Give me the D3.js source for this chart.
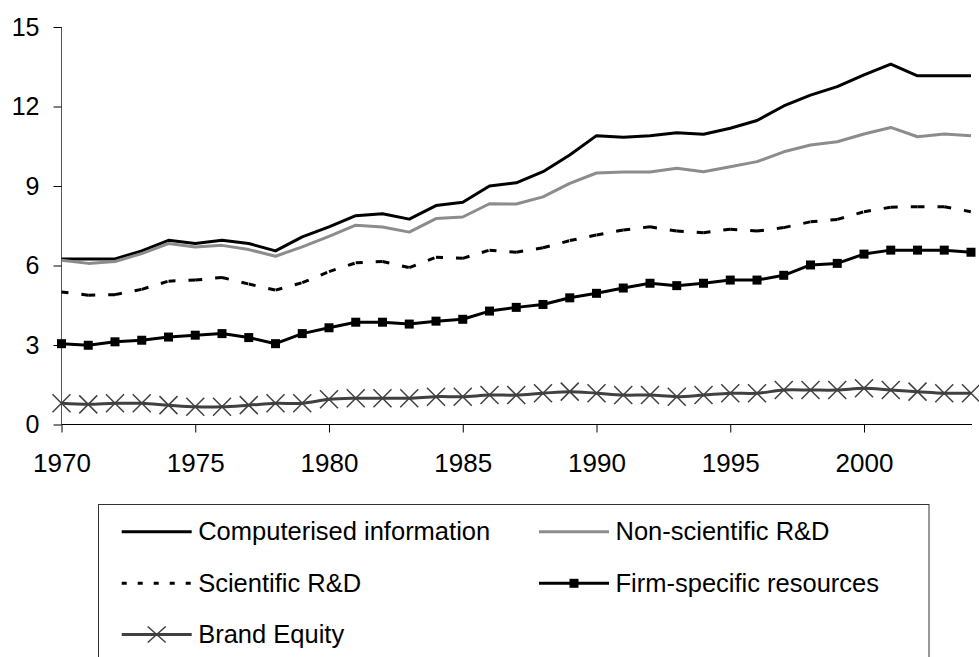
<!DOCTYPE html>
<html>
<head>
<meta charset="utf-8">
<script src="https://cdn.jsdelivr.net/npm/d3@7"></script>
<style>
  html, body { margin: 0; padding: 0; background: #fff; }
  svg { display: block; }
  text { font-family: "Liberation Sans", Arial, sans-serif; fill: #000; }
</style>
</head>
<body>
<svg id="chart" width="979" height="657"></svg>
<script>
// ---- data ----
const years = [1970,1971,1972,1973,1974,1975,1976,1977,1978,1979,
               1980,1981,1982,1983,1984,1985,1986,1987,1988,1989,
               1990,1991,1992,1993,1994,1995,1996,1997,1998,1999,
               2000,2001,2002,2003,2004];
const computerised = [6.25,6.25,6.25,6.55,6.95,6.83,6.95,6.83,6.55,7.08,
                      7.46,7.88,7.95,7.75,8.26,8.39,9.0,9.12,9.54,10.17,
                      10.9,10.84,10.9,11.01,10.95,11.18,11.47,12.02,12.43,12.75,
                      13.19,13.6,13.16,13.16,13.16];
const nonScientific = [6.2,6.08,6.15,6.45,6.83,6.7,6.76,6.6,6.35,6.7,
                       7.1,7.52,7.45,7.26,7.77,7.83,8.33,8.32,8.59,9.1,
                       9.49,9.53,9.53,9.67,9.54,9.73,9.92,10.29,10.55,10.67,
                       10.96,11.21,10.86,10.96,10.9];
const scientific = [5.0,4.88,4.9,5.1,5.41,5.45,5.55,5.3,5.07,5.35,
                    5.77,6.1,6.15,5.92,6.31,6.27,6.58,6.5,6.67,6.94,
                    7.15,7.34,7.46,7.3,7.24,7.37,7.3,7.43,7.65,7.74,
                    8.03,8.2,8.22,8.22,8.03];
const firmSpecific = [3.05,2.99,3.12,3.18,3.3,3.37,3.43,3.28,3.05,3.43,
                      3.65,3.86,3.86,3.79,3.9,3.97,4.28,4.42,4.53,4.78,
                      4.95,5.15,5.33,5.24,5.33,5.45,5.45,5.63,6.02,6.08,
                      6.43,6.58,6.58,6.58,6.5];
const brandEquity = [0.8,0.76,0.8,0.8,0.73,0.67,0.67,0.73,0.8,0.8,
                     0.95,0.99,0.99,0.99,1.05,1.05,1.11,1.11,1.18,1.24,
                     1.18,1.11,1.11,1.05,1.11,1.18,1.18,1.3,1.3,1.3,
                     1.37,1.3,1.24,1.18,1.18];
const seriesNames = ["Computerised information","Non-scientific R&D","Scientific R&D",
                     "Firm-specific resources","Brand Equity"];
const yTicks = [0,3,6,9,12,15];
const xTicks = [1970,1975,1980,1985,1990,1995,2000];

// ---- styles (kept separate from data) ----
const seriesValues = [computerised, nonScientific, scientific, firmSpecific, brandEquity];
const styles = [
  {color:"#000", width:3, dash:false, marker:null, curve:false},
  {color:"#8c8c8c", width:3, dash:false, marker:null, curve:false},
  {color:"#000", width:3, dash:true, marker:null, curve:false},
  {color:"#000", width:3, dash:false, marker:"square", curve:false},
  {color:"#404040", width:3, dash:false, marker:"x", curve:true}
];

const svg = d3.select("#chart");
const x = d3.scaleLinear().domain([1970, 2004]).range([61.5, 971]);
const y = d3.scaleLinear().domain([0, 15]).range([424.5, 27]);

// Y axis
const yAxis = svg.append("g").attr("transform","translate(61.5,0)")
  .call(d3.axisLeft(y).tickValues(yTicks).tickSizeInner(8).tickSizeOuter(0).tickPadding(14));
yAxis.select(".domain").attr("stroke","#555").attr("d", `M0,${y(15)}V${y(0)}`);
yAxis.selectAll(".tick line").attr("stroke","#000");
yAxis.selectAll(".tick text").attr("font-size",25).attr("font-family","Liberation Sans, Arial, sans-serif").attr("fill","#000");

// X axis
const xAxis = svg.append("g").attr("transform",`translate(0,${y(0)})`)
  .call(d3.axisBottom(x).tickValues(xTicks).tickFormat(d3.format("d")).tickSizeInner(8).tickSizeOuter(0));
xAxis.select(".domain").attr("stroke","#000").attr("d", `M${x(1970)},0H${x(2004)+1}`);
xAxis.selectAll(".tick line").attr("stroke","#000");
xAxis.selectAll(".tick text").attr("font-size",26).attr("font-family","Liberation Sans, Arial, sans-serif")
  .attr("fill","#000").attr("y",47).attr("dy",null);

// series
const plot = svg.append("g");
seriesValues.forEach((vals, si) => {
  const st = styles[si];
  const pts = years.map((yr, i) => [yr, vals[i]]);
  const g = plot.append("g");
  if (st.dash) {
    // dash pattern restarts on every segment
    const seg = d3.line().x(d => x(d[0])).y(d => y(d[1]));
    for (let i = 0; i < pts.length - 1; i++) {
      g.append("path").attr("d", seg([pts[i], pts[i+1]]))
        .attr("fill","none").attr("stroke",st.color).attr("stroke-width",st.width)
        .attr("stroke-dasharray","7,13");
    }
  } else {
    const line = d3.line().x(d => x(d[0])).y(d => y(d[1]))
      .curve(st.curve ? d3.curveCatmullRom.alpha(0.5) : d3.curveLinear);
    g.append("path").attr("d", line(pts)).attr("fill","none")
      .attr("stroke",st.color).attr("stroke-width",st.width).attr("stroke-linejoin","round");
  }
  if (st.marker === "square") {
    g.selectAll("rect").data(pts).join("rect")
      .attr("x", d => x(d[0]) - 4.5).attr("y", d => y(d[1]) - 4.5)
      .attr("width",9).attr("height",9).attr("fill","#000");
  } else if (st.marker === "x") {
    g.selectAll("path.mk").data(pts).join("path").attr("class","mk")
      .attr("d", d => { const cx = x(d[0]), cy = y(d[1]), r = 9;
        return `M${cx-r},${cy-r}L${cx+r},${cy+r}M${cx-r},${cy+r}L${cx+r},${cy-r}`; })
      .attr("stroke","#404040").attr("stroke-width",1.5).attr("fill","none");
  }
});

// legend
const legend = svg.append("g");
legend.append("rect").attr("x",98.5).attr("y",504.5).attr("width",830.5).attr("height",200)
  .attr("fill","none").attr("stroke","#333").attr("stroke-width",1);
const colX = [121.7, 539];
const rowY = [531.7, 583.3, 634.5];
seriesNames.forEach((name, i) => {
  const st = styles[i];
  const lx = colX[i % 2], ly = rowY[Math.floor(i / 2)];
  const item = legend.append("g");
  item.append("line").attr("x1",lx).attr("x2",lx+70).attr("y1",ly).attr("y2",ly)
    .attr("stroke",st.color).attr("stroke-width",st.width)
    .attr("stroke-dasharray", st.dash ? "5,11" : null);
  if (st.marker === "square") {
    item.append("rect").attr("x",lx+35-4.5).attr("y",ly-4.5).attr("width",9).attr("height",9).attr("fill","#000");
  } else if (st.marker === "x") {
    const cx = lx+35, r = 9;
    item.append("path").attr("d",`M${cx-r},${ly-8}L${cx+r},${ly+8}M${cx-r},${ly+8}L${cx+r},${ly-8}`)
      .attr("stroke","#404040").attr("stroke-width",1.5);
  }
  item.append("text").attr("x",lx+76.5).attr("y",ly+8.5).attr("font-size",25.5).text(name);
});
</script>
</body>
</html>
